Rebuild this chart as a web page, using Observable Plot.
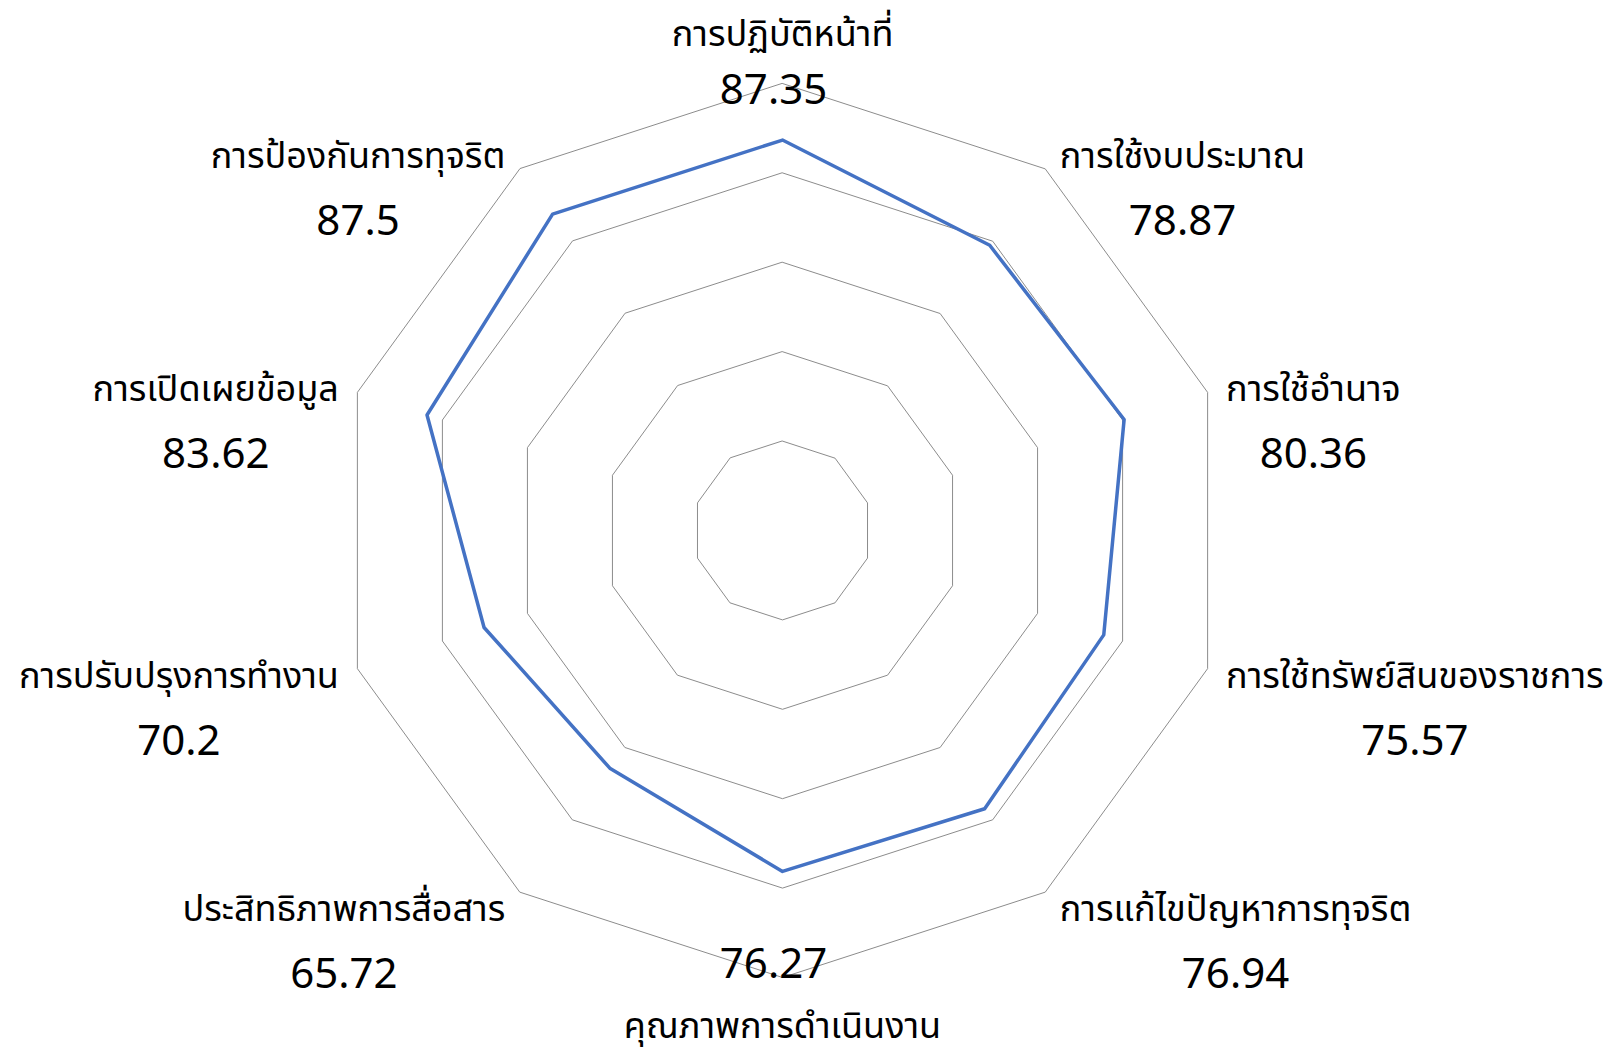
<!DOCTYPE html>
<html><head><meta charset="utf-8">
<script src="https://cdn.jsdelivr.net/npm/d3@7"></script>
<script src="https://cdn.jsdelivr.net/npm/@observablehq/plot@0.6"></script>
<style>html,body{margin:0;padding:0;background:#fff}</style>
</head><body><div id="chart"></div>
<script>
// ---- data ----
const categories = [
  "การปฏิบัติหน้าที่",
  "การใช้งบประมาณ",
  "การใช้อำนาจ",
  "การใช้ทรัพย์สินของราชการ",
  "การแก้ไขปัญหาการทุจริต",
  "คุณภาพการดำเนินงาน",
  "ประสิทธิภาพการสื่อสาร",
  "การปรับปรุงการทำงาน",
  "การเปิดเผยข้อมูล",
  "การป้องกันการทุจริต"
];
const scores = [87.35, 78.87, 80.36, 75.57, 76.94, 76.27, 65.72, 70.2, 83.62, 87.5];
const ringLevels = [20, 40, 60, 80, 100];
const scaleMax = 100;

// ---- layout ----
const W = 1611, H = 1052, CX = 782, CY = 530, R = 447;
const FONT = '"Noto Sans Thai","Leelawadee UI",Tahoma,"Noto Sans",sans-serif';
const NAME_SIZE = 36, VALUE_SIZE = 42;
const n = categories.length;
const angle = i => 2 * Math.PI * i / n;
const ux = (i, r) => r * Math.sin(angle(i));
const uy = (i, r) => r * Math.cos(angle(i));
const px = 1 / R;

const rings = ringLevels.flatMap(level =>
  categories.map((c, i) => ({level, x: ux(i, level / scaleMax), y: uy(i, level / scaleMax)})));
const series = categories.map((c, i) => ({
  category: c, score: scores[i],
  x: ux(i, scores[i] / scaleMax), y: uy(i, scores[i] / scaleMax)
}));

const ctx = document.createElement("canvas").getContext("2d");
ctx.font = `${NAME_SIZE}px ${FONT}`;
const labels = categories.map((c, i) => {
  const s = Math.sin(angle(i)), co = Math.cos(angle(i));
  const w = ctx.measureText(c).width;
  const vx = ux(i, 1), vy = uy(i, 1);
  let anchor, nameX, nameY, valX, valY;
  if (Math.abs(s) < 1e-6) {
    anchor = "middle"; nameX = vx; valX = vx - 9 * px;
    if (co > 0) { nameY = vy + 38 * px; valY = vy - 20 * px; }
    else { nameY = vy - 60 * px; valY = vy; }
  } else {
    const side = Math.sign(s);
    anchor = side > 0 ? "start" : "end";
    nameX = vx + side * (8 + 11 * Math.abs(s)) * px;
    nameY = vy - (14 - 18 * co) * px;
    valX = nameX + side * (w / 2) * px;
    valY = nameY - 67 * px;
  }
  return {name: c, score: scores[i], anchor, nameX, nameY, valX, valY};
});

const chart = Plot.plot({
  width: W, height: H, margin: 0,
  style: {fontFamily: FONT, background: "#fff", color: "#000"},
  x: {domain: [-1, 1], range: [CX - R, CX + R], axis: null},
  y: {domain: [-1, 1], range: [CY + R, CY - R], axis: null},
  marks: [
    Plot.line(rings, {x: "x", y: "y", z: "level", curve: "linear-closed", stroke: "#8c8c8c", strokeWidth: 1}),
    Plot.line(series, {x: "x", y: "y", curve: "linear-closed", stroke: "#4472C4", strokeWidth: 3.5, strokeLinejoin: "round"}),
    ...["start", "end", "middle"].map(a =>
      Plot.text(labels.filter(d => d.anchor === a), {
        x: "nameX", y: "nameY", text: "name", textAnchor: a, lineAnchor: "bottom",
        fontSize: NAME_SIZE, fill: "#000"
      })),
    Plot.text(labels, {
      x: "valX", y: "valY", text: d => String(d.score), textAnchor: "middle", lineAnchor: "bottom",
      fontSize: VALUE_SIZE, fill: "#000"
    })
  ]
});
document.getElementById("chart").appendChild(chart);
</script>
</body></html>
